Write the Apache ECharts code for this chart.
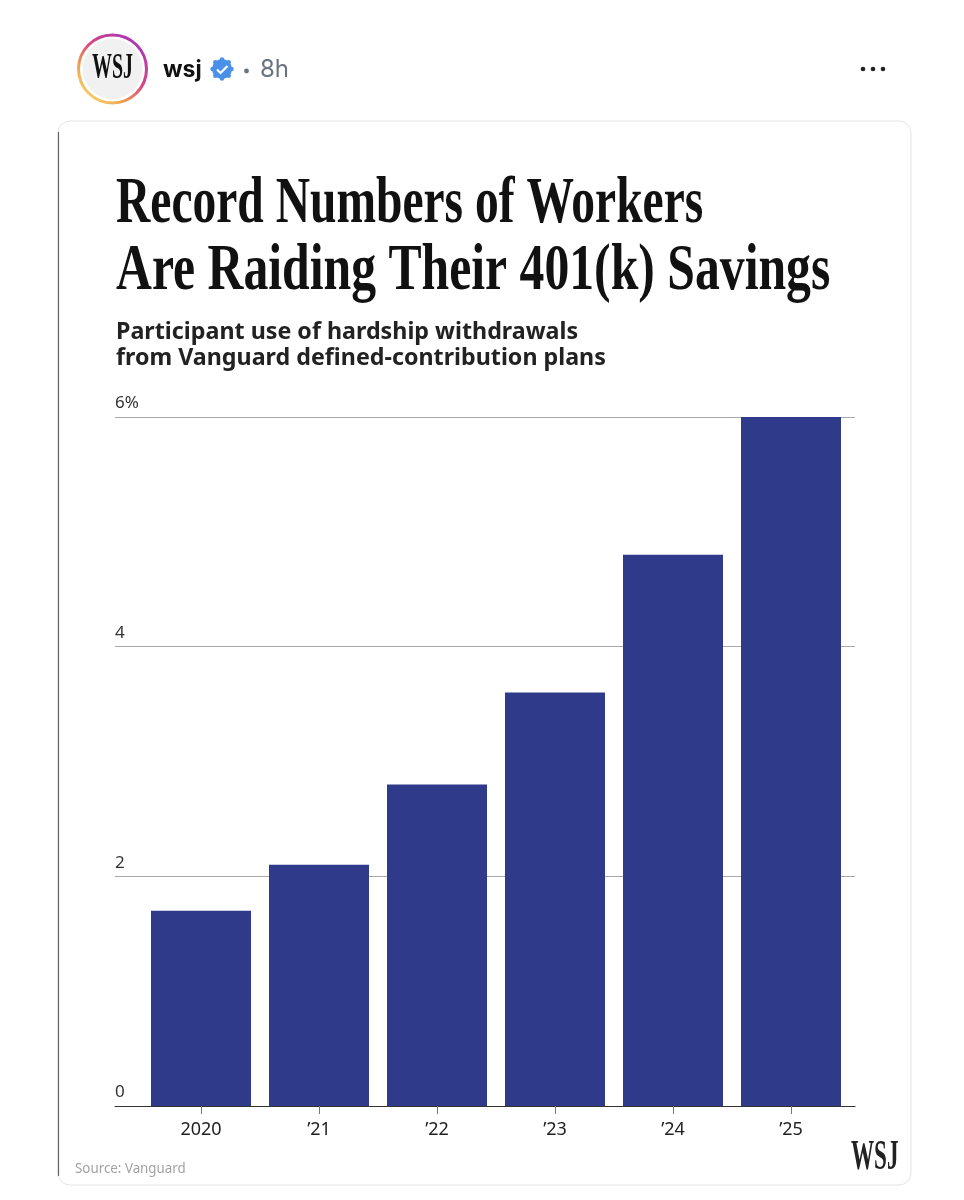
<!DOCTYPE html>
<html>
<head>
<meta charset="utf-8">
<title>Record Numbers of Workers Are Raiding Their 401(k) Savings</title>
<script src="https://cdn.jsdelivr.net/npm/echarts@6/dist/echarts.min.js"></script>
<style>
  html, body { margin: 0; padding: 0; background: #fff; }
  #chart { width: 964px; height: 1200px; }
</style>
</head>
<body>
<div id="chart"></div>
<script>
var categories = ['2020', '’21', '’22', '’23', '’24', '’25'];
var withdrawals = [1.7, 2.1, 2.8, 3.6, 4.8, 6];
var yTickLabels = { 0: '0', 2: '2', 4: '4', 6: '6%' };

var chart = echarts.init(document.getElementById('chart'));

// helper for the text drawn around the plot
function label(text, x, y, font, fill, scaleX) {
    return {
        type: 'text', x: x, y: y, scaleX: scaleX || 1,
        style: { text: text, font: font, fill: fill, align: 'left', verticalAlign: 'middle' }
    };
}

var graphics = [
    // card
    { type: 'rect', z: -2, shape: { x: 58, y: 121, width: 853, height: 1064, r: 12 },
      style: { fill: '#fff', stroke: '#e4e4e4', lineWidth: 1 } },
    { type: 'line', z: -1, shape: { x1: 58.5, y1: 132, x2: 58.5, y2: 1176 },
      style: { stroke: '#666', lineWidth: 1.2 } },
    // avatar
    { type: 'circle', shape: { cx: 112.5, cy: 69, r: 34 },
      style: { fill: '#fff', lineWidth: 3,
        stroke: new echarts.graphic.LinearGradient(0.9, 0.1, 0.2, 0.95, [
            { offset: 0, color: '#a535c0' },
            { offset: 0.45, color: '#d9487a' },
            { offset: 0.75, color: '#f0a050' },
            { offset: 1, color: '#f7d36a' }
        ]) } },
    { type: 'circle', shape: { cx: 112.5, cy: 69, r: 30 }, style: { fill: '#f1f1f1' } },
    label('WSJ', 92, 69, 'bold 35px "Liberation Serif"', '#111', 0.57),
    label('wsj', 163, 70, 'bold 23px Inter', '#111', 1),
    { type: 'circle', shape: { cx: 222, cy: 69, r: 10 }, style: { fill: '#4a90e8' } },
    { type: 'circle', shape: { cx: 222, cy: 59.5, r: 2.2 }, style: { fill: '#4a90e8' } },
    { type: 'circle', shape: { cx: 222, cy: 78.5, r: 2.2 }, style: { fill: '#4a90e8' } },
    { type: 'circle', shape: { cx: 212.5, cy: 69, r: 2.2 }, style: { fill: '#4a90e8' } },
    { type: 'circle', shape: { cx: 231.5, cy: 69, r: 2.2 }, style: { fill: '#4a90e8' } },
    { type: 'circle', shape: { cx: 215.3, cy: 62.3, r: 2.2 }, style: { fill: '#4a90e8' } },
    { type: 'circle', shape: { cx: 228.7, cy: 62.3, r: 2.2 }, style: { fill: '#4a90e8' } },
    { type: 'circle', shape: { cx: 215.3, cy: 75.7, r: 2.2 }, style: { fill: '#4a90e8' } },
    { type: 'circle', shape: { cx: 228.7, cy: 75.7, r: 2.2 }, style: { fill: '#4a90e8' } },
    { type: 'polyline', z: 2, shape: { points: [[217, 69.5], [220.5, 73], [227.5, 66]] },
      style: { stroke: '#fff', lineWidth: 2.2, fill: null } },
    { type: 'circle', shape: { cx: 246.5, cy: 71, r: 2.4 }, style: { fill: '#6b7280' } },
    label('8h', 260, 70, '24px Inter', '#6b7280', 1),
    { type: 'circle', shape: { cx: 863, cy: 69, r: 2.3 }, style: { fill: '#222' } },
    { type: 'circle', shape: { cx: 873, cy: 69, r: 2.3 }, style: { fill: '#222' } },
    { type: 'circle', shape: { cx: 883, cy: 69, r: 2.3 }, style: { fill: '#222' } },
    // headline
    label('Record Numbers of Workers', 116, 205, 'bold 66px "Liberation Serif"', '#111', 0.72),
    label('Are Raiding Their 401(k) Savings', 116, 272, 'bold 66px "Liberation Serif"', '#111', 0.753),
    label('Participant use of hardship withdrawals', 116, 332, 'bold 23px "Noto Sans"', '#222', 1.011),
    label('from Vanguard defined-contribution plans', 116, 358, 'bold 23px "Noto Sans"', '#222', 1.011),
    // footer
    label('Source: Vanguard', 75, 1169, '15px "Noto Sans"', '#a3a3a3', 0.89),
    label('WSJ', 851, 1158, 'bold 42px "Liberation Serif"', '#222', 0.55)
];

var option = {
    backgroundColor: '#fff',
    animation: false,
    graphic: { elements: graphics },
    // grid 0 carries the full width rules, grid 1 spaces the bars
    grid: [
        { left: 115, top: 417, width: 740, height: 689 },
        { left: 142, top: 417, width: 708, height: 689 }
    ],
    xAxis: [
        { type: 'category', gridIndex: 0, data: categories,
          axisLine: { lineStyle: { color: '#333', width: 1.2 } },
          axisTick: { show: false }, axisLabel: { show: false } },
        { type: 'category', gridIndex: 1, data: categories,
          axisLine: { show: false },
          axisTick: { show: true, alignWithLabel: true, length: 8, lineStyle: { color: '#777' } },
          axisLabel: { margin: 15, fontFamily: 'Noto Sans', fontSize: 18, color: '#222' } }
    ],
    yAxis: [
        { type: 'value', gridIndex: 0, min: 0, max: 6, interval: 2,
          axisLine: { show: false }, axisTick: { show: false },
          splitLine: { lineStyle: { color: '#a8a8a8', width: 1 } },
          axisLabel: { inside: true, margin: 0, verticalAlign: 'bottom', padding: [0, 0, 5, 0],
            fontFamily: 'Noto Sans', fontSize: 17, color: '#333',
            formatter: function (v) { return yTickLabels[v]; } } },
        { type: 'value', gridIndex: 1, min: 0, max: 6, interval: 2,
          axisLine: { show: false }, axisTick: { show: false },
          splitLine: { show: false }, axisLabel: { show: false } }
    ],
    series: [{
        type: 'bar',
        xAxisIndex: 1,
        yAxisIndex: 1,
        data: withdrawals,
        barWidth: 100,
        itemStyle: { color: '#2f3a8a' }
    }]
};

chart.setOption(option);
</script>
</body>
</html>
